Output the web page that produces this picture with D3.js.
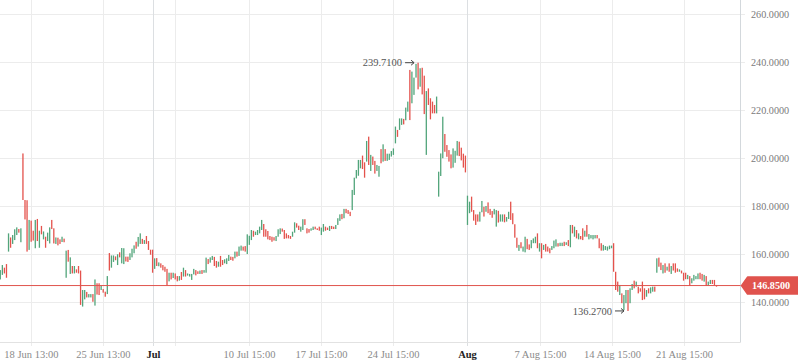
<!DOCTYPE html>
<html>
<head>
<meta charset="utf-8">
<script src="https://cdn.jsdelivr.net/npm/d3@7/dist/d3.min.js"></script>
<style>
  html, body { margin: 0; padding: 0; background: #fff; }
  svg { display: block; }
  .lbl { font-family: "Liberation Serif", "Times New Roman", serif; font-size: 10.5px; fill: #8a8a8a; }
  .lbl.month { fill: #222; font-weight: bold; }
  .ylbl { font-family: "Liberation Serif", "Times New Roman", serif; font-size: 10.2px; fill: #7a7a7a; }
  .mark { font-family: "Liberation Serif", "Times New Roman", serif; font-size: 10.5px; fill: #555; }
</style>
</head>
<body>
<svg id="chart" width="798" height="363"></svg>
<script>
// hourly bars (high / low per bar, G = up, R = down)
var highs = [
  153.3,155.4,154.3,155.8,168.6,166.9,167.9,170.3,171.1,170.4,
  170.7,201.9,182.5,182.4,174.2,173.9,169.7,174.2,174.6,169.7,
  171.7,169.4,167.2,168.9,171.1,174.2,170.7,166.9,166.8,166.1,
  167.2,166.4,161.4,161.7,158.6,155.0,155.0,153.6,155.0,153.1,
  145.0,145.0,144.2,143.3,143.3,143.3,149.4,147.8,147.8,146.8,
  145.4,144.3,150.8,160.4,159.4,159.4,159.0,159.9,160.7,162.5,
  162.4,158.9,158.9,160.3,162.2,163.6,165.1,167.1,168.6,166.3,
  165.8,167.5,165.4,161.8,161.8,158.2,158.3,156.5,156.1,155.4,
  154.7,153.8,152.2,152.2,152.2,151.9,150.8,150.8,152.5,
  154.3,153.3,151.9,151.7,151.7,153.8,153.3,152.8,153.1,153.3,
  153.3,158.5,157.9,158.6,159.2,158.8,157.1,156.8,159.2,157.5,
  157.8,158.2,159.6,158.9,158.8,161.0,161.0,163.1,163.5,163.1,
  163.3,168.2,167.6,170.0,169.7,169.3,170.0,171.4,174.2,172.5,
  170.3,169.6,167.5,167.2,167.0,167.5,170.3,170.7,170.6,170.0,
  168.6,167.9,167.5,169.3,173.2,172.8,171.8,171.4,174.5,174.5,
  170.7,170.4,170.7,171.4,171.4,170.7,171.4,171.0,172.5,171.4,
  171.0,171.7,171.7,171.4,172.1,174.9,176.5,176.7,178.8,178.8,
  178.3,177.6,186.7,191.8,195.0,199.2,
  199.2,201.0,198.2,207.1,208.9,201.3,200.6,198.8,197.1,196.7,
  203.7,205.7,203.7,201.8,201.8,202.9,204.0,213.1,211.7,216.5,
  216.5,216.3,221.0,223.5,236.7,236.0,233.5,239.2,239.71,237.4,
  237.6,234.3,227.9,229.0,224.9,223.5,222.1,225.6,194.3,201.9,
  217.2,210.0,205.4,203.3,201.5,204.0,203.0,207.1,206.8,204.3,
  201.8,201.0,184.3,181.8,183.9,178.3,176.5,176.5,177.6,182.1,
  179.7,180.0,181.5,178.8,177.9,178.8,178.3,178.0,176.5,
  176.5,176.5,175.4,177.6,181.8,177.0,172.4,166.8,163.8,164.9,
  163.1,167.2,166.3,164.0,165.8,166.5,167.2,168.6,164.5,164.5,
  163.8,164.2,163.1,
  162.4,163.3,165.6,166.1,164.5,164.7,164.7,165.1,164.9,
  165.8,172.1,172.1,171.4,170.0,168.6,167.5,170.7,169.7,172.1,
  168.3,167.9,167.9,167.9,167.9,166.5,164.5,163.8,163.3,163.1,
  163.5,163.5,164.5,152.6,148.5,147.1,143.6,142.9,145.0,145.0,
  145.7,147.5,148.9,148.5,146.4,145.7,148.5,145.7,145.0,145.7,
  146.1,146.4,146.4,
  158.2,158.5,156.4,155.4,156.1,154.7,156.1,155.0,156.1,156.1,
  154.0,153.6,153.1,152.2,152.2,151.3,150.8,149.9,151.3,150.8,
  151.9,152.2,151.7,151.3,150.8,148.5,149.2,149.2,149.2,147.1
];

var lows = [
  149.4,151.3,151.9,150.1,161.0,162.6,164.2,165.8,167.9,168.9,
  164.9,182.5,174.4,161.0,161.7,165.1,165.6,162.4,165.4,162.6,
  168.2,166.1,162.6,165.4,164.4,170.4,164.4,164.2,163.6,164.2,
  165.0,164.9,150.1,156.8,151.7,151.9,151.9,152.2,151.9,138.8,
  138.1,141.1,141.9,141.9,141.9,140.1,138.5,143.1,142.9,145.0,
  143.9,142.2,143.3,153.1,154.3,156.7,157.4,155.4,158.6,156.1,
  155.8,156.9,156.7,157.5,158.6,160.3,162.2,163.1,164.2,164.2,
  164.2,164.2,161.7,159.7,152.2,153.8,155.0,154.9,154.3,153.2,
  152.6,146.8,148.6,149.4,150.0,149.4,148.6,148.9,149.2,
  150.6,150.6,151.0,150.6,149.2,151.5,151.1,151.7,151.7,151.7,
  152.2,152.2,155.8,156.4,157.5,155.0,154.3,154.7,154.7,155.4,
  156.1,155.8,157.1,157.5,157.2,158.2,158.9,159.2,161.4,161.4,
  161.0,160.0,163.8,165.8,167.2,167.9,167.9,168.6,170.0,167.2,
  167.2,166.1,165.8,165.1,165.6,165.4,167.2,168.3,169.3,166.3,
  166.5,166.5,166.3,167.2,168.9,171.0,170.0,169.3,170.0,172.1,
  168.6,168.9,169.7,170.0,170.3,170.0,169.7,167.9,169.3,169.7,
  170.0,169.6,170.4,170.4,170.4,172.1,173.8,174.5,174.9,177.0,
  176.7,175.8,178.3,184.6,191.5,192.6,
  195.7,195.4,191.8,198.5,197.1,194.6,197.1,193.5,194.6,192.2,
  197.8,198.5,198.8,198.8,199.2,200.6,201.3,206.1,208.8,211.7,
  213.8,214.0,215.7,219.3,215.8,222.8,226.3,233.5,228.6,229.7,
  226.5,218.3,201.3,222.1,216.1,218.6,218.6,218.6,183.9,192.5,
  199.9,202.6,200.5,198.5,195.7,196.0,198.0,201.0,200.8,199.0,
  196.0,194.0,172.1,177.0,177.6,173.9,172.1,173.5,173.5,177.4,
  175.6,177.6,177.0,176.3,175.1,176.5,171.4,173.1,173.5,
  173.5,173.2,173.5,174.6,174.2,172.4,166.8,162.6,161.3,162.4,
  161.0,160.7,162.0,161.7,162.4,164.5,164.5,162.4,161.0,158.2,
  161.7,161.0,161.0,
  160.3,161.7,162.4,163.1,163.1,163.3,163.3,163.3,163.8,
  163.3,162.8,168.6,167.2,166.5,166.1,166.1,165.8,167.2,167.2,
  166.1,166.5,166.1,166.5,166.5,162.4,161.4,161.4,161.7,161.4,
  162.0,162.4,152.6,145.0,144.3,142.9,139.5,136.6,139.5,136.27,
  139.5,145.0,145.7,146.4,143.6,144.3,140.8,141.1,142.2,143.6,
  143.6,144.3,144.3,
  152.2,154.7,153.3,151.9,152.2,153.1,152.6,151.7,153.1,152.2,
  152.6,152.6,151.9,148.9,149.5,149.5,146.7,147.8,148.9,149.5,
  149.5,149.5,148.9,148.5,146.7,146.7,147.5,147.5,147.1,146.4
];

var directions = (
  "GGRRGRGGGR GRRRGRRGRG RGRGGRRGRR GRGRGRGRRR GGRGGRGRRG RRGRGGRGRG GRRGGGRGGR GRRRRGRGRR RRGRGRRGR " +
  "GRGGGGRRGR GGRGGRRGRR GGGRRGRGGR RGGGRGGGGR RRRRRGGGRR RRRGGRRGGR RRGGRRRGGR RGRRGGGRGR RRGGGG " +
  "GRRGRGRRGG RGRGGGGGRG GRGGRGGGRG RRGRRRRGGG GRRRRGGGRR RRGGRRRRGG RGRRRGGRG GRGGRRRRGR GGRRGGGRGR GRR " +
  "RGGGRGGRG RGRGRGRRGR GGGGRRRGGG GGRRRGRGGR GGRGRRRRGR GGR " +
  "GRRGRGRGRR RGRRRGRGGG GRRGRGGRRR"
).replace(/\s/g, '').split('');

var yTicks = [140, 160, 180, 200, 220, 240, 260];
var xTickBars = [15, 50, 74, 85, 121, 156, 191, 227, 262, 297, 332];
var xTickLabels = ['18 Jun 13:00', '25 Jun 13:00', 'Jul', '', '10 Jul 15:00',
  '17 Jul 15:00', '24 Jul 15:00', 'Aug', '7 Aug 15:00', '14 Aug 15:00', '21 Aug 15:00'];
var monthTicks = ['Jul', 'Aug'];
var lastPrice = 146.85;

var W = 798, H = 363;
var plotRight = 740.5, plotBottom = 342.5;
var upColor = '#52a57b', downColor = '#e4524c', priceColor = '#e0534d';

var svg = d3.select('#chart');

var bars = highs.map(function(h, i) {
  return { i: i, high: h, low: lows[i], up: directions[i] === 'G' };
});

var x = d3.scaleLinear().domain([0, bars.length - 1]).range([0.3, 716.5]);
var y = d3.scaleLinear().domain([140, 260]).range([302, 14]);

// horizontal grid + right axis ticks
svg.append('g').selectAll('line')
  .data(yTicks).enter().append('line')
  .attr('x1', 0).attr('x2', plotRight + 4.5)
  .attr('y1', function(d) { return Math.round(y(d)) + 0.5; })
  .attr('y2', function(d) { return Math.round(y(d)) + 0.5; })
  .attr('stroke', '#ececec');

// vertical grid at the time ticks
svg.append('g').selectAll('line')
  .data(xTickBars).enter().append('line')
  .attr('x1', function(d) { return Math.round(x(d)) + 0.5; })
  .attr('x2', function(d) { return Math.round(x(d)) + 0.5; })
  .attr('y1', 0).attr('y2', plotBottom + 3.5)
  .attr('stroke', function(d, i) {
    return monthTicks.indexOf(xTickLabels[i]) >= 0 ? '#dcdfe2' : '#ececec';
  });

// axis lines
svg.append('line')
  .attr('x1', plotRight).attr('x2', plotRight)
  .attr('y1', 0).attr('y2', plotBottom)
  .attr('stroke', '#d3d8dc');
svg.append('line')
  .attr('x1', 0).attr('x2', plotRight)
  .attr('y1', plotBottom).attr('y2', plotBottom)
  .attr('stroke', '#e2e2e2');

// bars
svg.append('g').selectAll('rect')
  .data(bars).enter().append('rect')
  .attr('x', function(d) { return x(d.i) - 0.65; })
  .attr('width', 1.3)
  .attr('y', function(d) { return y(d.high); })
  .attr('height', function(d) { return Math.max(1, y(d.low) - y(d.high)); })
  .attr('fill', function(d) { return d.up ? upColor : downColor; });

// last price line
svg.append('line')
  .attr('x1', 0).attr('x2', plotRight)
  .attr('y1', y(lastPrice)).attr('y2', y(lastPrice))
  .attr('stroke', priceColor);

// y labels
svg.append('g').selectAll('text')
  .data(yTicks).enter().append('text')
  .attr('class', 'ylbl')
  .attr('x', 751)
  .attr('y', function(d) { return y(d); })
  .attr('dy', '0.35em')
  .text(function(d) { return d.toFixed(4); });

// price tag
var py = y(lastPrice);
svg.append('path')
  .attr('d', 'M' + (plotRight + 1) + ',' + py +
    'L' + (plotRight + 7) + ',' + (py - 8.5) + 'H' + W + 'V' + (py + 8.5) +
    'H' + (plotRight + 7) + 'Z')
  .attr('fill', priceColor)
  .attr('stroke', priceColor)
  .attr('stroke-linejoin', 'round')
  .attr('stroke-width', 1.5);
svg.append('text')
  .attr('class', 'ylbl')
  .attr('x', 752).attr('y', py).attr('dy', '0.35em')
  .style('fill', '#fff').style('font-weight', 'bold')
  .text(lastPrice.toFixed(4));

// x labels
svg.append('g').selectAll('text')
  .data(xTickBars).enter().append('text')
  .attr('class', function(d, i) {
    return monthTicks.indexOf(xTickLabels[i]) >= 0 ? 'lbl month' : 'lbl';
  })
  .attr('x', function(d) { return Math.round(x(d)) + 0.5; })
  .attr('y', 354)
  .attr('dy', '0.35em')
  .attr('text-anchor', 'middle')
  .text(function(d, i) { return xTickLabels[i]; });

// high / low markers
function marker(idx, value) {
  var bx = x(idx), by = y(value);
  var g = svg.append('g');
  g.append('text')
    .attr('class', 'mark')
    .attr('x', bx - 16).attr('y', by).attr('dy', '0.35em')
    .attr('text-anchor', 'end')
    .text(value.toFixed(4));
  g.append('path')
    .attr('d', 'M' + (bx - 13) + ',' + by + 'H' + (bx - 4) +
      'M' + (bx - 7) + ',' + (by - 2.5) + 'L' + (bx - 4) + ',' + by + 'L' + (bx - 7) + ',' + (by + 2.5))
    .attr('fill', 'none')
    .attr('stroke', '#444')
    .attr('stroke-width', 1);
}

var hiIdx = d3.maxIndex(highs), loIdx = d3.minIndex(lows);
marker(hiIdx, highs[hiIdx]);
marker(loIdx, lows[loIdx]);
</script>
</body>
</html>
